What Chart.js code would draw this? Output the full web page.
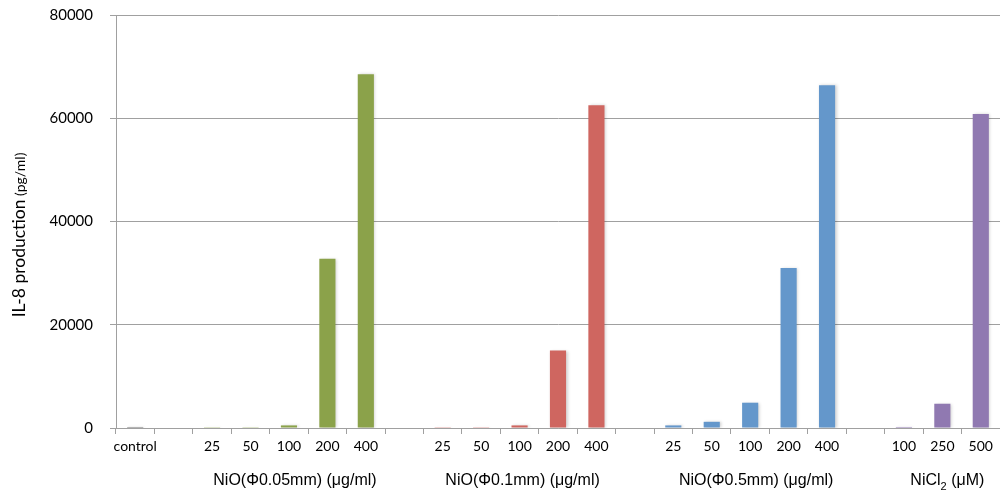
<!DOCTYPE html>
<html><head><meta charset="utf-8">
<script src="https://cdn.jsdelivr.net/npm/chart.js@4"></script>
<style>html,body{margin:0;padding:0;background:#fff}#wrap{width:1000px;height:495px;position:relative}</style>
</head><body><div id="wrap"><canvas id="c" width="1000" height="495"></canvas></div>
<script>
// ---- data ----
const controlLabel = ['control'];
const controlValues = [200];
const nio005Doses = ['25','50','100','200','400'];
const nio005Values = [150, 150, 500, 32800, 68500];
const nio01Doses = ['25','50','100','200','400'];
const nio01Values = [150, 150, 500, 15000, 62500];
const nio05Doses = ['25','50','100','200','400'];
const nio05Values = [500, 1200, 4900, 31000, 66400];
const nicl2Doses = ['100','250','500'];
const nicl2Values = [200, 4700, 60800];
const groupNames = ['NiO(Φ0.05mm) (μg/ml)', 'NiO(Φ0.1mm) (μg/ml)', 'NiO(Φ0.5mm) (μg/ml)', 'NiCl\u2082 (μM)'];
const yTicks = [0, 20000, 40000, 60000, 80000];
const colors = { control: '#6f6f6f', g: '#8ba24a', r: '#cf6660', b: '#6497cb', p: '#9079b1' };

// ---- build categories ----
const labels = [], values = [], barColors = [], groups = [];
function add(lbls, vals, col, gi) {
  const start = labels.length;
  lbls.forEach((l, i) => { labels.push(l); values.push(vals[i]); barColors.push(col); });
  if (gi !== undefined) groups.push({ name: groupNames[gi], start, end: labels.length - 1 });
}
function gap() { labels.push(''); values.push(null); barColors.push('#fff'); }
add(controlLabel, controlValues, colors.control);
gap(); add(nio005Doses, nio005Values, colors.g, 0);
gap(); add(nio01Doses, nio01Values, colors.r, 1);
gap(); add(nio05Doses, nio05Values, colors.b, 2);
gap(); add(nicl2Doses, nicl2Values, colors.p, 3);

const GF = '"Liberation Sans", Arial, sans-serif';
const TF = 'Lato, "Open Sans", sans-serif';

const groupLabelPlugin = {
  id: 'groupLabels',
  afterDraw(chart) {
    const ctx = chart.ctx, x = chart.scales.x;
    ctx.save();
    ctx.fillStyle = '#000';
    ctx.textBaseline = 'middle';
    groups.forEach((g, i) => {
      const cx = (x.getPixelForValue(g.start) + x.getPixelForValue(g.end)) / 2 + [6, 3, 6, 5][i];
      if (g.name.indexOf('\u2082') >= 0) {
        const a = 'NiCl', s = '2', b = ' (μM)';
        ctx.font = '16px ' + GF;
        const wa = ctx.measureText(a).width, wb = ctx.measureText(b).width;
        ctx.font = '11px ' + GF;
        const ws = ctx.measureText(s).width;
        const sx = cx - (wa + ws + wb) / 2;
        ctx.textAlign = 'left';
        ctx.font = '16px ' + GF;
        ctx.fillText(a, sx, 481);
        ctx.font = '11px ' + GF;
        ctx.fillText(s, sx + wa, 487);
        ctx.font = '16px ' + GF;
        ctx.fillText(b, sx + wa + ws, 481);
      } else {
        ctx.textAlign = 'center';
        ctx.font = '16px ' + GF;
        ctx.fillText(g.name, cx, 481);
      }
    });
    // y axis title (mixed sizes)
    ctx.translate(19, 235);
    ctx.rotate(-Math.PI / 2);
    ctx.textAlign = 'left';
    ctx.textBaseline = 'middle';
    const t1 = 'IL-8 production', t2 = ' (pg/ml)';
    ctx.font = '17.5px ' + TF;
    const w1 = ctx.measureText(t1).width;
    ctx.font = '14px ' + TF;
    const w2 = ctx.measureText(t2).width;
    const sx = -(w1 + w2) / 2;
    ctx.font = '17.5px ' + TF;
    ctx.fillText(t1, sx, 0);
    ctx.font = '14px ' + TF;
    ctx.fillText(t2, sx + w1, 1);
    ctx.restore();
  }
};

const shadowPlugin = {
  id: 'barShadow',
  beforeDatasetsDraw(chart) {
    const ctx = chart.ctx; ctx.save();
    ctx.shadowColor = 'rgba(0,0,0,0.18)'; ctx.shadowBlur = 3; ctx.shadowOffsetX = 1.5; ctx.shadowOffsetY = 0;
  },
  afterDatasetsDraw(chart) { chart.ctx.restore(); }
};

new Chart(document.getElementById('c'), {
  type: 'bar',
  data: { labels, datasets: [{ data: values, backgroundColor: barColors, borderWidth: 0,
    categoryPercentage: 1, barPercentage: 0.42 }] },
  options: {
    responsive: false, animation: false, devicePixelRatio: 1,
    layout: { padding: { top: 15, right: 0, left: 0, bottom: 0 } },
    plugins: { legend: { display: false }, tooltip: { enabled: false } },
    scales: {
      x: {
        grid: { drawOnChartArea: false, offset: true, color: '#a0a0a0', tickLength: 6, lineWidth: 1 },
        border: { color: '#a0a0a0' },
        ticks: { color: '#000', font: { family: TF, size: 14 }, padding: 4, maxRotation: 0, autoSkip: false },
        afterFit(s) { s.height = 67; s.paddingLeft = 0; s.paddingRight = 0; }
      },
      y: {
        min: 0, max: 80000,
        afterBuildTicks(s) { s.ticks = yTicks.map(v => ({ value: v })); },
        grid: { color: '#a0a0a0', tickLength: 6 },
        border: { color: '#a0a0a0' },
        ticks: { color: '#000', font: { family: TF, size: 15 }, padding: 17, callback: v => String(v) },
        afterFit(s) { s.width = 116; s.paddingTop = 0; s.paddingBottom = 0; }
      }
    }
  },
  plugins: [shadowPlugin, groupLabelPlugin]
});
</script></body></html>
